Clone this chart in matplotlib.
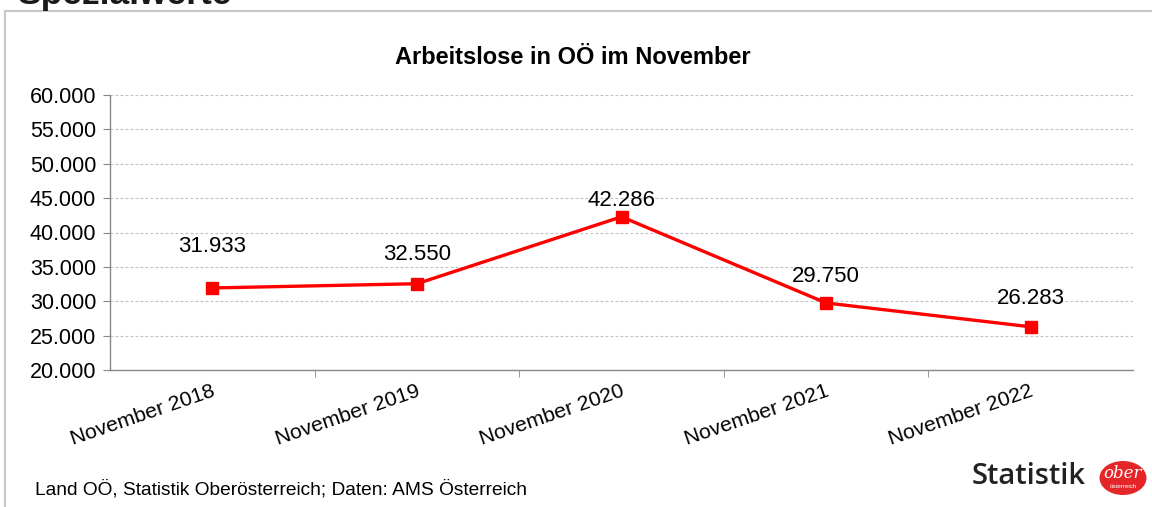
import matplotlib
matplotlib.use("Agg")
import matplotlib.pyplot as plt
import matplotlib.transforms as mtrans
from matplotlib.patches import Rectangle, Ellipse

plt.rcParams['font.family'] = ['Liberation Sans', 'DejaVu Sans']

categories = ["November 2018", "November 2019", "November 2020", "November 2021", "November 2022"]
values = [31933, 32550, 42286, 29750, 26283]
label_offsets = [41, 29, 16, 26, 28]  # px above marker (style)
yticks = [20000, 25000, 30000, 35000, 40000, 45000, 50000, 55000, 60000]

W, H = 1152, 507
fig = plt.figure(figsize=(W/100, H/100), dpi=100)

# outer frame
fig.patches.append(Rectangle((5/W, -0.1), 1.2, 1 - 11/H + 0.1, transform=fig.transFigure,
                             fill=False, edgecolor="#c8c8c8", linewidth=1.5))
# cut-off heading at the top
fig.text(17/W, 1 - 4/H, "Spezialwerte", fontsize=25.5, fontweight="bold", ha="left", va="baseline",
         color="#1a1a1a")

ax = fig.add_axes([110/W, 1 - 370/H, (1133-110)/W, (370-95)/H])
x = list(range(len(categories)))
ax.plot(x, values, color="#ff0000", linewidth=2.4, marker="s", markersize=9,
        markerfacecolor="#ff0000", markeredgecolor="#ff0000", zorder=3)

for xi, v, off in zip(x, values, label_offsets):
    ax.annotate(f"{v:,}".replace(",", "."), (xi, v), xytext=(0, off * 0.72), textcoords="offset points",
                ha="center", va="center", fontsize=16, color="#000000")

ax.set_xlim(-0.5, len(categories) - 0.5)
ax.set_ylim(20000, 60000)
ax.set_yticks(yticks)
ax.set_yticklabels([f"{t:,}".replace(",", ".") for t in yticks], fontsize=15.5)
ax.yaxis.grid(True, color="#c0c0c0", linestyle=(0, (2.5, 2)), linewidth=0.8)
ax.set_axisbelow(True)

ax.set_xticks(x)
ax.set_xticklabels(categories, rotation=19, ha="right", va="top", rotation_mode="anchor", fontsize=15.3)
ax.set_xticks([i + 0.5 for i in range(len(categories) - 1)], minor=True)
ax.tick_params(axis="x", which="major", length=0, pad=8)
ax.tick_params(axis="x", which="minor", length=5, color="#888888")
ax.tick_params(axis="y", length=5, color="#888888", pad=5)
offset = mtrans.ScaledTranslation(-1/100, 0, fig.dpi_scale_trans)
for lbl in ax.get_xticklabels():
    lbl.set_transform(lbl.get_transform() + offset)

for s in ["top", "right"]:
    ax.spines[s].set_visible(False)
for s in ["left", "bottom"]:
    ax.spines[s].set_color("#888888")
    ax.spines[s].set_linewidth(1.0)

fig.text(573/W, 1 - 57/H, "Arbeitslose in OÖ im November", fontsize=17, fontweight="bold",
         ha="center", va="center")
fig.text(35/W, 1 - 489/H, "Land OÖ, Statistik Oberösterreich; Daten: AMS Österreich", fontsize=13.8,
         ha="left", va="center")

# logo
fig.text(1086/W, 1 - 477/H, "Statistik", fontsize=21, fontweight="semibold", ha="right", va="center",
         family=["Open Sans", "DejaVu Sans"], color="#222222")
fig.patches.append(Ellipse((1123/W, 1 - 478/H), 47/W, 34/H, transform=fig.transFigure,
                           facecolor="#e52629", edgecolor="none"))
fig.text(1123/W, 1 - 474/H, "ober", fontsize=12, fontstyle="italic", color="white",
         ha="center", va="center", family=["DejaVu Serif"])
fig.text(1123/W, 1 - 487/H, "österreich", fontsize=4.5, color="white", ha="center", va="center")

fig.savefig("out.png", dpi=100)
